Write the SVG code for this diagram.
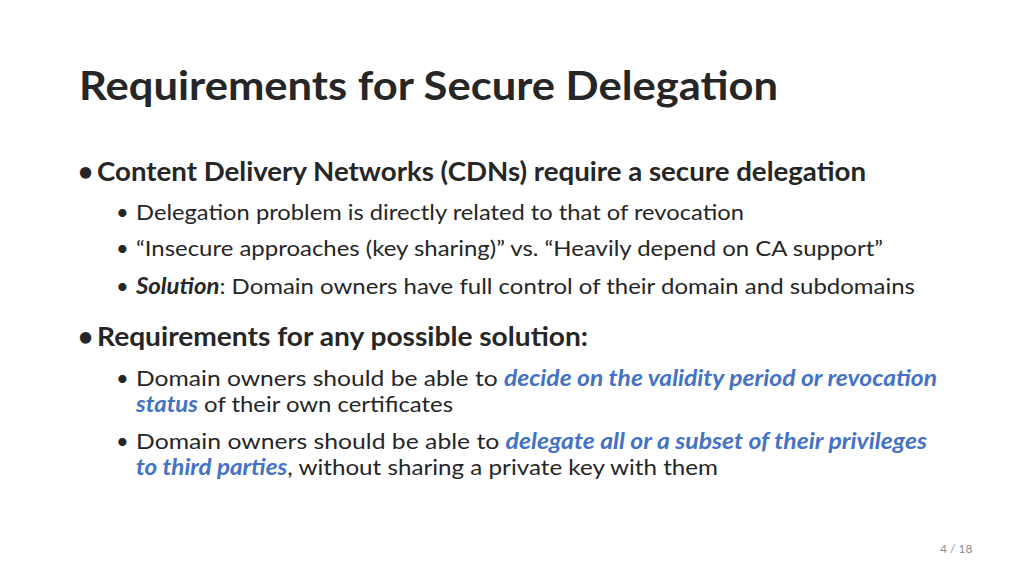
<svg xmlns="http://www.w3.org/2000/svg" width="1024" height="576" viewBox="0 0 1024 576">
<style>
text{font-family:Lato,"Open Sans","Liberation Sans",sans-serif;fill:#262626}
.t{font-size:40px;font-weight:bold}
.b{font-size:26px;font-weight:bold}
.s{font-size:22px}
.h{fill:#4472C4;font-weight:bold;font-style:italic}
.pg{font-size:12px;fill:#8c8c8c}
</style>
<rect width="1024" height="576" fill="#fff"/>
<text class="t" x="79" y="100" textLength="699" lengthAdjust="spacingAndGlyphs">Requirements for Secure Delegation</text>
<text class="b" x="78" y="181">•</text>
<text class="b" x="97" y="181" textLength="769" lengthAdjust="spacingAndGlyphs">Content Delivery Networks (CDNs) require a secure delegation</text>
<text class="s" x="116" y="220">•</text>
<text class="s" x="136" y="220" textLength="608" lengthAdjust="spacingAndGlyphs">Delegation problem is directly related to that of revocation</text>
<text class="s" x="116" y="256">•</text>
<text class="s" x="136" y="256" textLength="747" lengthAdjust="spacingAndGlyphs">“Insecure approaches (key sharing)” vs. “Heavily depend on CA support”</text>
<text class="s" x="116" y="294">•</text>
<text class="s" x="136" y="294" textLength="779" lengthAdjust="spacingAndGlyphs"><tspan font-weight="bold" font-style="italic">Solution</tspan>: Domain owners have full control of their domain and subdomains</text>
<text class="b" x="78" y="346">•</text>
<text class="b" x="97" y="346" textLength="491" lengthAdjust="spacingAndGlyphs">Requirements for any possible solution:</text>
<text class="s" x="116" y="386">•</text>
<text class="s" x="136" y="386" textLength="801" lengthAdjust="spacingAndGlyphs">Domain owners should be able to <tspan class="h">decide on the validity period or revocation</tspan></text>
<text class="s" x="136" y="412" textLength="317" lengthAdjust="spacingAndGlyphs"><tspan class="h">status</tspan> of their own certificates</text>
<text class="s" x="116" y="449">•</text>
<text class="s" x="136" y="449" textLength="791" lengthAdjust="spacingAndGlyphs">Domain owners should be able to <tspan class="h">delegate all or a subset of their privileges</tspan></text>
<text class="s" x="136" y="475" textLength="582" lengthAdjust="spacingAndGlyphs"><tspan class="h">to third parties</tspan>, without sharing a private key with them</text>
<text class="pg" x="940" y="553">4 / 18</text>
</svg>
